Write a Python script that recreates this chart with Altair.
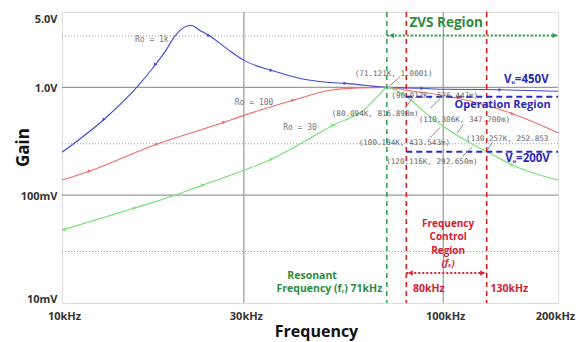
import altair as alt
import pandas as pd

# ---------------- data ----------------
blue_f = [10, 12.9, 15.7, 17.6, 18.6, 19.8, 20.9, 21.8, 23.0, 24.3, 27, 30, 35.4, 42.2, 50.4, 55.3, 63, 71.121, 88, 100, 141, 200]
blue_g = [0.25, 0.506, 1.0, 1.63, 2.12, 3.0, 3.6, 3.77, 3.37, 3.03, 2.3, 1.78, 1.44, 1.21, 1.11, 1.09, 1.04, 1.0, 0.98, 0.96, 0.95, 0.92]

red_f = [10, 11.8, 17.7, 26.6, 30, 40.4, 50.4, 60, 71.121, 80, 100, 130, 152, 200]
red_g = [0.138, 0.167, 0.297, 0.474, 0.55, 0.76, 0.94, 0.99, 1.0, 0.94, 0.84, 0.68, 0.57, 0.38]

green_f = [10, 15.5, 19.8, 23.4, 30, 35.4, 42.2, 51.4, 61.6, 68.5, 71.121, 80.094, 90.012, 100.184, 110.306, 120.116, 130.257, 152, 200]
green_g = [0.0474, 0.076, 0.1, 0.124, 0.17, 0.215, 0.30, 0.445, 0.61, 0.88, 1.0001, 0.8169, 0.5764, 0.4335, 0.3477, 0.2927, 0.2529, 0.19, 0.138]

blue_mark_f = [12.9, 17.6, 24.3, 35.4, 55.3, 88, 141]
blue_mark_g = [0.506, 1.63, 3.03, 1.44, 1.09, 0.98, 0.95]
red_mark_f = [11.8, 17.7, 26.6, 40.4, 152]
red_mark_g = [0.167, 0.297, 0.474, 0.76, 0.57]
green_mark_f = [10.2, 15.5, 23.4, 35.4, 51.4, 152]
green_mark_g = [0.048, 0.076, 0.124, 0.215, 0.445, 0.19]

x_ticks = [10, 30, 100, 200]
y_ticks = [0.01, 0.1, 1, 5]
y_tick_labels = ["10mV", "100mV", "1.0V", "5.0V"]
solid_x_grid = [30, 100]
solid_y_grid = [1, 0.1]
dotted_y_grid = [3, 0.3, 0.03]

f_res, f_lo, f_hi = 71.121, 80, 130
op_hi_g, op_lo_g = 0.8169, 0.2529

ro_labels = ["Ro = 1k", "Ro = 100", "Ro = 30"]
ro_f = [17.2, 31.9, 42.1]
ro_g = [2.73, 0.711, 0.417]

pt_labels = ["(71.121K, 1.0001)", "(90.012K, 576.447m)", "(80.094K, 816.898m)",
             "(110.306K, 347.700m)", "(100.184K, 433.543m)", "(130.257K, 252.853",
             "(120.116K, 292.650m)"]
pt_f = [74.1, 95.0, 66.3, 113.6, 79.1, 147.2, 93.4]
pt_g = [1.32, 0.83, 0.571, 0.495, 0.305, 0.335, 0.203]

# leader lines (from label to point)
lead_f = [77.1, 82.9, 98.2, 92.5, 112.9, 134.5, 112.2]
lead_g = [1.264, 0.791, 0.791, 0.344, 0.454, 0.310, 0.229]
lead_f2 = [72.2, 79.5, 92.5, 98.2, 108.8, 130.5, 119.2]
lead_g2 = [1.021, 0.639, 0.639, 0.426, 0.375, 0.261, 0.278]

FONT = "Open Sans"
MONO = "DejaVu Sans Mono"
BLUE = "#4646d8"
RED = "#f06a6a"
GREEN = "#72e072"
DGREEN = "#2e8b3e"
DRED = "#d42030"
DBLUE = "#2a2ab8"

# ---------------- scales / axes ----------------
xscale = alt.Scale(type="log", domain=[10, 200])
yscale = alt.Scale(type="log", domain=[0.01, 5])
label_expr = " : ".join(
    f"datum.value == {v} ? '{t}'" for v, t in zip(y_ticks, y_tick_labels)
) + " : ''"

xaxis = alt.Axis(values=x_ticks, labelExpr="datum.value + 'kHz'", grid=False, ticks=False,
                 domain=False, labelFont=FONT, labelFontWeight="bold", labelFontSize=11,
                 labelColor="#333", labelPadding=7, labelFlush=False, labelOverlap=False,
                 labelOffset={"condition": {"test": "datum.value == 200", "value": -3}, "value": 2},
                 title="Frequency", titleFont=FONT, titleFontSize=16, titleFontWeight="bold",
                 titleColor="#111", titleX=254, titleY=33, titleBaseline="alphabetic")
yaxis = alt.Axis(values=y_ticks, labelExpr=label_expr, grid=False, ticks=False, domain=False,
                 labelFont=FONT, labelFontWeight="bold", labelFontSize=11, labelColor="#333",
                 labelPadding=5, labelFlush=True, labelOffset=1, labelOverlap=False,
                 title="Gain", titleFont=FONT, titleFontSize=17, titleFontWeight="bold",
                 titleColor="#111", titleX=-39, titleY=135, titleBaseline="middle", titleAngle=270)

X = alt.X("f:Q", scale=xscale, axis=xaxis)
Y = alt.Y("g:Q", scale=yscale, axis=yaxis)
X2 = alt.X2("f2:Q")
Y2 = alt.Y2("g2:Q")

# ---------------- tables ----------------
curves = pd.concat([
    pd.DataFrame({"f": blue_f, "g": blue_g, "s": "blue"}),
    pd.DataFrame({"f": red_f, "g": red_g, "s": "red"}),
    pd.DataFrame({"f": green_f, "g": green_g, "s": "green"}),
])
marks = pd.concat([
    pd.DataFrame({"f": blue_mark_f, "g": blue_mark_g, "s": "blue"}),
    pd.DataFrame({"f": red_mark_f, "g": red_mark_g, "s": "red"}),
    pd.DataFrame({"f": green_mark_f, "g": green_mark_g, "s": "green"}),
])
cscale = alt.Scale(domain=["blue", "red", "green"], range=[BLUE, RED, GREEN])

layers = []

# grid
layers.append(alt.Chart(pd.DataFrame({"f": solid_x_grid})).mark_rule(color="#9a9a9a", strokeWidth=1.2).encode(x=X))
layers.append(alt.Chart(pd.DataFrame({"g": solid_y_grid})).mark_rule(color="#9a9a9a", strokeWidth=1.2).encode(y=Y))
layers.append(alt.Chart(pd.DataFrame({"g": dotted_y_grid})).mark_rule(color="#9a9a9a", strokeWidth=1, strokeDash=[1, 2]).encode(y=Y))

# curves
layers.append(alt.Chart(curves).mark_line(interpolate="monotone", strokeWidth=1.1).encode(
    x=X, y=Y, color=alt.Color("s:N", scale=cscale, legend=None), detail="s:N"))
layers.append(alt.Chart(marks).mark_point(shape="triangle-right", size=14, filled=True, opacity=1).encode(
    x=X, y=Y, color=alt.Color("s:N", scale=cscale, legend=None)))

# vertical dashed lines
layers.append(alt.Chart(pd.DataFrame({"f": [f_res]})).mark_rule(color="#2fa050", strokeWidth=1.5, strokeDash=[5, 4]).encode(x=X))
layers.append(alt.Chart(pd.DataFrame({"f": [f_lo, f_hi]})).mark_rule(color="#e01818", strokeWidth=1.5, strokeDash=[5, 4]).encode(x=X))

# operation region dashed lines
layers.append(alt.Chart(pd.DataFrame({"f": [f_lo, f_lo], "f2": [200, 200], "g": [op_hi_g, op_lo_g]}))
              .mark_rule(color="#2a2acc", strokeWidth=2, strokeDash=[6, 4]).encode(x=X, x2=X2, y=Y))

# ZVS arrow
zvs_g = 3.03
layers.append(alt.Chart(pd.DataFrame({"f": [f_res], "f2": [200], "g": [zvs_g]}))
              .mark_rule(color="#2fa050", strokeWidth=2, strokeDash=[2, 2]).encode(x=X, x2=X2, y=Y))
layers.append(alt.Chart(pd.DataFrame({"f": [f_res * 1.03], "g": [zvs_g]}))
              .mark_point(shape="triangle-left", size=30, filled=True, color="#2fa050", opacity=1).encode(x=X, y=Y))
layers.append(alt.Chart(pd.DataFrame({"f": [200 / 1.02], "g": [zvs_g]}))
              .mark_point(shape="triangle-right", size=30, filled=True, color="#2fa050", opacity=1).encode(x=X, y=Y))

# frequency control arrow
fc_g = 0.019
layers.append(alt.Chart(pd.DataFrame({"f": [f_lo], "f2": [f_hi], "g": [fc_g]}))
              .mark_rule(color=DRED, strokeWidth=2, strokeDash=[2, 2]).encode(x=X, x2=X2, y=Y))
layers.append(alt.Chart(pd.DataFrame({"f": [f_lo * 1.025], "g": [fc_g]}))
              .mark_point(shape="triangle-left", size=30, filled=True, color=DRED, opacity=1).encode(x=X, y=Y))
layers.append(alt.Chart(pd.DataFrame({"f": [f_hi / 1.025], "g": [fc_g]}))
              .mark_point(shape="triangle-right", size=30, filled=True, color=DRED, opacity=1).encode(x=X, y=Y))

# leader lines
layers.append(alt.Chart(pd.DataFrame({"f": lead_f, "g": lead_g, "f2": lead_f2, "g2": lead_g2}))
              .mark_rule(color="#8a8a8a", strokeWidth=1).encode(x=X, y=Y, x2=X2, y2=Y2))

# Ro labels and point labels
layers.append(alt.Chart(pd.DataFrame({"f": ro_f, "g": ro_g, "t": ro_labels}))
              .mark_text(font=MONO, fontSize=8, color="#777").encode(x=X, y=Y, text="t:N"))
layers.append(alt.Chart(pd.DataFrame({"f": pt_f, "g": pt_g, "t": pt_labels}))
              .mark_text(font=MONO, fontSize=7.6, color="#666").encode(x=X, y=Y, text="t:N"))

# big annotations
def txt(f, g, t, color, size, align="center", style="normal"):
    return alt.Chart(pd.DataFrame({"f": [f], "g": [g], "t": [t]})).mark_text(
        font=FONT, fontSize=size, fontWeight="bold", color=color, align=align, fontStyle=style
    ).encode(x=X, y=Y, text="t:N")

layers.append(txt(101.8, 3.92, "ZVS Region", DGREEN, 13.5))
layers.append(txt(165.2, 1.16, "Vₒ=450V", DBLUE, 11.5))
layers.append(txt(143.1, 0.681, "Operation Region", DBLUE, 11))
layers.append(txt(166.4, 0.215, "Vₒ=200V", DBLUE, 11.5))
layers.append(txt(103, 0.0540, "Frequency", DRED, 10))
layers.append(txt(103, 0.0408, "Control", DRED, 10))
layers.append(txt(103, 0.0304, "Region", DRED, 10))
layers.append(txt(103, 0.0235, "(fₛ)", DRED, 9.5, style="italic"))
layers.append(txt(83.3, 0.0134, "80kHz", DRED, 10.5, align="left"))
layers.append(txt(133.0, 0.0134, "130kHz", DRED, 10.5, align="left"))
layers.append(txt(45.3, 0.0178, "Resonant", DGREEN, 10.5))
layers.append(txt(69.2, 0.0134, "Frequency (fᵣ) 71kHz", DGREEN, 10.5, align="right"))

chart = alt.layer(*layers).properties(
    width=496, height=291,
    autosize=alt.AutoSizeParams(type="none"),
    padding={"left": 54, "top": 4, "right": 18, "bottom": 38},
).configure_view(stroke="#9a9a9a", strokeWidth=1.5).configure(background="white")

chart.save("out.html", embed_options={"renderer": "svg", "actions": False})
